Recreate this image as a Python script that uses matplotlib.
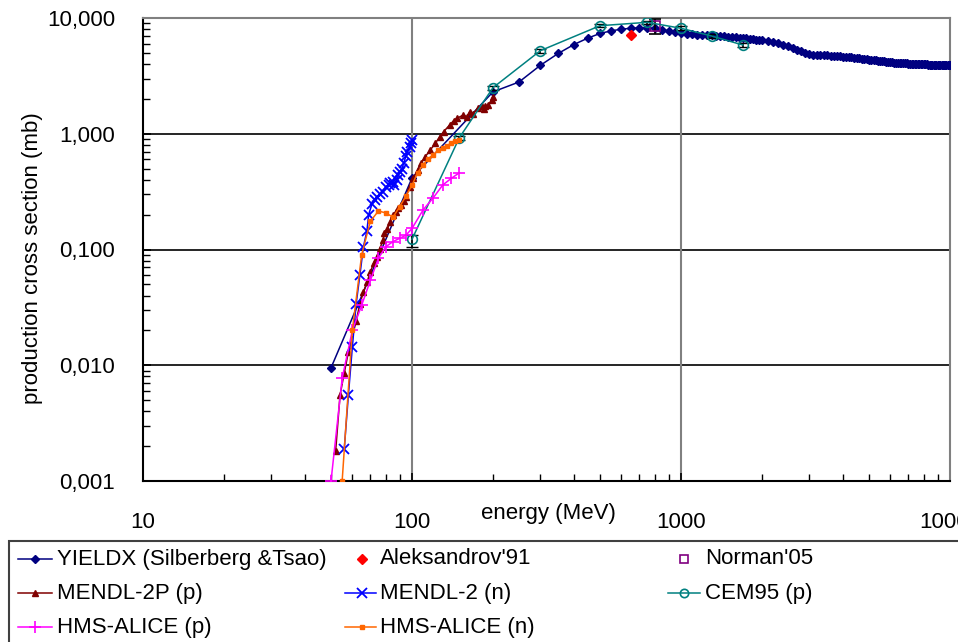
import numpy as np
import matplotlib
matplotlib.use("Agg")
import matplotlib.pyplot as plt
from matplotlib.lines import Line2D
from matplotlib.patches import Rectangle
from matplotlib.ticker import FuncFormatter, LogLocator, NullFormatter

plt.rcParams['font.family'] = ['Liberation Sans', 'DejaVu Sans']

# ---------------- data ----------------
yieldx_e = [50, 100] + list(range(200, 2001, 50)) + list(range(2100, 10001, 100))
yieldx_v = [0.0095, 0.415,
            2.30, 2.80, 3.90, 4.95, 5.90, 6.70, 7.35, 7.75, 8.00, 8.15, 8.22, 8.22, 8.12, 7.95, 7.72, 7.50, 7.35,
            7.30, 7.25, 7.20, 7.16, 7.12, 7.08, 7.04, 7.00, 6.95, 6.90, 6.86, 6.82, 6.77, 6.72, 6.67, 6.62, 6.57, 6.52, 6.47, 6.42,
            6.32, 6.18, 6.03, 5.86, 5.70, 5.52, 5.33, 5.15, 4.97, 4.86,
            4.82, 4.80, 4.79, 4.78, 4.75, 4.72, 4.70, 4.68, 4.66, 4.63,
            4.61, 4.58, 4.56, 4.53, 4.51, 4.49, 4.46, 4.43, 4.40, 4.37,
            4.35, 4.32, 4.30, 4.28, 4.25, 4.23, 4.21, 4.19, 4.17, 4.15,
            4.13, 4.12, 4.11, 4.10, 4.09, 4.08, 4.07, 4.06, 4.05, 4.04,
            4.03, 4.03, 4.02, 4.01, 4.01, 4.00, 3.99, 3.99, 3.98, 3.98,
            3.97, 3.97, 3.96, 3.96, 3.95, 3.95, 3.95, 3.94, 3.94, 3.94,
            3.93, 3.93, 3.93, 3.93, 3.93, 3.92, 3.92, 3.92, 3.92, 3.92]

aleks_e = [650]
aleks_v = [7.13]
aleks_err = [0.2]

norman_e = [800]
norman_v = [8.58]
norman_err_lo = [1.30]
norman_err_hi = [1.20]

mendl2p_e = [52, 54, 56, 58, 62, 64, 66, 68, 70, 72, 74, 76, 78, 79, 81, 83, 85, 87, 89, 91, 93, 95, 98,
             101, 105, 108, 112, 117, 122, 127, 131, 138, 143, 147, 155, 160, 164, 168, 176, 182, 185, 187, 192, 198, 200]
mendl2p_v = [0.0018, 0.0055, 0.0086, 0.013, 0.024, 0.034, 0.043, 0.052, 0.064, 0.076, 0.087, 0.102, 0.121, 0.138,
             0.150, 0.174, 0.199, 0.212, 0.227, 0.242, 0.26, 0.286, 0.349,
             0.412, 0.486, 0.556, 0.634, 0.724, 0.827, 0.943, 1.04, 1.19, 1.30, 1.36, 1.45, 1.40, 1.55, 1.48,
             1.66, 1.72, 1.62, 1.74, 1.77, 1.96, 2.09]

mendl2n_e = [56, 58, 60, 62, 64, 66, 68, 69, 71, 73, 74, 76, 78, 80, 82, 83, 85, 86, 88, 89, 90, 92, 93, 95, 96, 98, 99, 100]
mendl2n_v = [0.0019, 0.0055, 0.0143, 0.034, 0.060, 0.106, 0.145, 0.20, 0.247, 0.268, 0.286, 0.30, 0.316, 0.344,
             0.36, 0.373, 0.381, 0.36, 0.40, 0.44, 0.47, 0.50, 0.556, 0.64, 0.70, 0.77, 0.84, 0.88]

cem_e = [100, 150, 200, 300, 500, 750, 1000, 1300, 1700]
cem_v = [0.1225, 0.925, 2.50, 5.22, 8.58, 9.18, 8.15, 6.99, 5.84]
cem_err_lo = [0.018, 0.04, 0.10, 0.20, 0.30, 0.30, 0.30, 0.25, 0.20]
cem_err_hi = [0.011, 0.04, 0.10, 0.20, 0.30, 0.30, 0.30, 0.25, 0.20]

hmsp_e = [50, 55, 60, 65, 70, 75, 80, 85, 90, 95, 100, 110, 120, 130, 140, 150]
hmsp_v = [0.001, 0.0077, 0.020, 0.033, 0.054, 0.084, 0.106, 0.117, 0.125, 0.133, 0.152, 0.22, 0.28, 0.36, 0.412, 0.46]

hmsn_e = [55, 60, 65, 70, 75, 80, 85, 90, 95, 100, 105, 110, 115, 120, 125, 130, 135, 140, 145, 150]
hmsn_v = [0.001, 0.020, 0.09, 0.175, 0.215, 0.207, 0.19, 0.235, 0.29, 0.36, 0.46, 0.54, 0.61, 0.66, 0.72, 0.76,
          0.79, 0.83, 0.86, 0.88]

labels = ["YIELDX (Silberberg &Tsao)", "Aleksandrov'91", "Norman'05",
          "MENDL-2P (p)", "MENDL-2 (n)", "CEM95 (p)",
          "HMS-ALICE (p)", "HMS-ALICE (n)"]

# ---------------- figure ----------------
W, H = 958, 642
FS = 16
fig = plt.figure(figsize=(W / 100, H / 100), dpi=100)
L, R, T, B = 143, 950, 18, 481
ax = fig.add_axes([L / W, 1 - B / H, (R - L) / W, (B - T) / H])
ax.set_xscale('log')
ax.set_yscale('log')
ax.set_xlim(10, 10000)
ax.set_ylim(0.001, 10)

# grid
for yv in [0.01, 0.1, 1.0]:
    ax.axhline(yv, color='black', lw=1.2, zorder=1)
for xv in [100, 1000]:
    ax.axvline(xv, color='#808080', lw=1.5, zorder=1)

styles = dict(
    yieldx=dict(color='#000080', marker='D', ms=4, lw=1.1),
    mendl2p=dict(color='#800000', marker='^', ms=5, lw=1.1),
    mendl2n=dict(color='#0000FF', marker='x', ms=7, mew=1.3, lw=1.1),
    cem=dict(color='#008080', marker='o', ms=7, mfc='none', mew=1.2, lw=1.1),
    hmsp=dict(color='#FF00FF', marker='+', ms=8, mew=1.2, lw=1.1),
    hmsn=dict(color='#FF6600', marker='s', ms=3, lw=1.1),
)

ax.plot(yieldx_e, yieldx_v, zorder=3, **styles['yieldx'])
ax.errorbar(aleks_e, aleks_v, yerr=[aleks_err, aleks_err], fmt='D', color='#FF0000', ms=5,
            ecolor='#FF0000', elinewidth=1, capsize=3, zorder=4)
ax.errorbar(norman_e, norman_v, yerr=[norman_err_lo, norman_err_hi], fmt='s', color='#800080',
            mfc='none', ms=7, mew=1.2, ecolor='black', elinewidth=1.2, capsize=4, zorder=4)
ax.plot(mendl2p_e, mendl2p_v, zorder=4, **styles['mendl2p'])
ax.plot(mendl2n_e, mendl2n_v, zorder=4, **styles['mendl2n'])
ax.errorbar(cem_e, cem_v, yerr=[cem_err_lo, cem_err_hi], fmt='none', ecolor='black',
            elinewidth=1.2, capsize=4, zorder=5)
ax.plot(cem_e, cem_v, zorder=5, **styles['cem'])
ax.plot(hmsp_e, hmsp_v, zorder=6, **styles['hmsp'])
ax.plot(hmsn_e, hmsn_v, zorder=6, **styles['hmsn'])

# spines
for s in ['top', 'right']:
    ax.spines[s].set_color('#808080')
    ax.spines[s].set_linewidth(1.5)
for s in ['left', 'bottom']:
    ax.spines[s].set_color('black')
    ax.spines[s].set_linewidth(1.5)

ax.xaxis.set_major_locator(LogLocator(base=10, numticks=10))
ax.yaxis.set_major_locator(LogLocator(base=10, numticks=10))
ax.xaxis.set_minor_locator(LogLocator(base=10, subs=np.arange(2, 10), numticks=20))
ax.yaxis.set_minor_locator(LogLocator(base=10, subs=np.arange(2, 10), numticks=20))
ax.xaxis.set_minor_formatter(NullFormatter())
ax.yaxis.set_minor_formatter(NullFormatter())
ax.xaxis.set_major_formatter(FuncFormatter(lambda v, p: f"{v:.0f}"))
ax.yaxis.set_major_formatter(FuncFormatter(lambda v, p: f"{v:.3f}".replace('.', ',')))
ax.tick_params(which='major', direction='in', length=6, width=1.2, labelsize=FS, colors='black')
ax.tick_params(axis='x', which='major', pad=22)
ax.tick_params(axis='y', which='major', pad=20)
ax.tick_params(which='minor', direction='in', length=5, width=1.0)
ax.tick_params(top=False, right=False, which='both')

fig.text(548 / W, 1 - 513 / H, 'energy (MeV)', ha='center', va='center', fontsize=FS)
fig.text(33 / W, 1 - 258 / H, 'production cross section (mb)', ha='center', va='center',
         rotation=90, fontsize=FS)

# ---------------- legend (drawn manually, Excel-like clipped box) ----------------
fig.add_artist(Rectangle((9 / W, 1 - 660 / H), 960 / W, 119 / H, transform=fig.transFigure,
                         fill=False, edgecolor='#404040', lw=1.5, clip_on=False))
rows_y = [559, 593, 627]
col_h = [(18, 52, 35, 57), (345, 376, 362, 380), (668, 700, 684, 705)]
entries = [
    (0, 0, dict(color='#000080', marker='D', ms=4, lw=1.1)),
    (0, 1, dict(color='#FF0000', marker='D', ms=5, lw=0)),
    (0, 2, dict(color='#800080', marker='s', ms=6, mfc='none', mew=1.2, lw=0)),
    (1, 0, dict(color='#800000', marker='^', ms=5, lw=1.1)),
    (1, 1, dict(color='#0000FF', marker='x', ms=7, mew=1.3, lw=1.1)),
    (1, 2, dict(color='#008080', marker='o', ms=6, mfc='none', mew=1.2, lw=1.1)),
    (2, 0, dict(color='#FF00FF', marker='+', ms=8, mew=1.2, lw=1.1)),
    (2, 1, dict(color='#FF6600', marker='s', ms=3, lw=1.1)),
]
for (r, c, st), lab in zip(entries, labels):
    x0, x1, xm, xt = col_h[c]
    yy = 1 - rows_y[r] / H
    ln = st.get('lw', 1)
    if ln > 0:
        fig.add_artist(Line2D([x0 / W, x1 / W], [yy, yy], transform=fig.transFigure,
                              color=st['color'], lw=ln))
    mk = {k: v for k, v in st.items() if k != 'lw'}
    fig.add_artist(Line2D([xm / W], [yy], transform=fig.transFigure, lw=0, **mk))
    fig.text(xt / W, yy, lab, ha='left', va='center', fontsize=FS)

fig.savefig('out.png', dpi=100)
